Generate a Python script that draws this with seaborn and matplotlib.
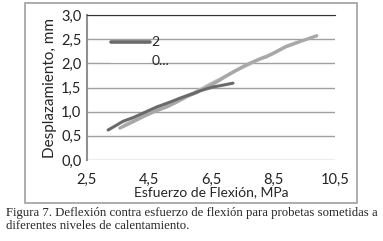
import matplotlib
matplotlib.use("Agg")
import matplotlib.pyplot as plt
import seaborn as sns
import pandas as pd
from matplotlib.lines import Line2D
from matplotlib.patches import Rectangle
from matplotlib.ticker import FuncFormatter

# serie "2" (gris oscuro)
x_dark = [3.18, 3.45, 3.66, 4.0, 4.31, 4.55, 4.76, 5.02, 5.27, 5.5, 5.72, 5.95, 6.14, 6.35, 6.56, 6.9, 7.21]
y_dark = [0.62, 0.72, 0.8, 0.88, 0.97, 1.04, 1.1, 1.16, 1.22, 1.28, 1.33, 1.38, 1.43, 1.47, 1.51, 1.55, 1.59]
# serie "0..." (gris claro)
x_light = [3.56, 3.98, 4.42, 4.75, 5.08, 5.4, 5.72, 6.05, 6.37, 6.7, 7.0, 7.3, 7.64, 8.0, 8.3, 8.6, 8.93, 9.37, 9.91]
y_light = [0.66, 0.79, 0.93, 1.02, 1.1, 1.2, 1.31, 1.4, 1.51, 1.62, 1.74, 1.85, 1.97, 2.07, 2.14, 2.24, 2.35, 2.45, 2.57]
x_light2 = [3.7, 4.1, 4.5, 4.9, 5.3, 5.7, 6.1, 6.5, 6.9, 7.3, 7.7, 8.1, 8.5, 8.9, 9.3]
y_light2 = [0.72, 0.84, 0.97, 1.08, 1.19, 1.32, 1.44, 1.58, 1.71, 1.85, 1.97, 2.1, 2.2, 2.34, 2.44]

xticks = [2.5, 4.5, 6.5, 8.5, 10.5]
yticks = [0.0, 0.5, 1.0, 1.5, 2.0, 2.5, 3.0]

sns.set_style("white")
plt.rcParams["font.family"] = ["Lato", "DejaVu Sans"]

fig = plt.figure(figsize=(3.83, 2.41), dpi=100)
fig.patches.append(Rectangle((25 / 383, 1 - 203 / 241), 332 / 383, 200 / 241,
                             transform=fig.transFigure, fill=False,
                             edgecolor="#a0a0a0", lw=1.2))
ax = fig.add_axes([87 / 383, 81 / 241, 248 / 383, 145 / 241])

df_d = pd.DataFrame({"x": x_dark, "y": y_dark})
df_l = pd.DataFrame({"x": x_light, "y": y_light})
df_l2 = pd.DataFrame({"x": x_light2, "y": y_light2})
sns.lineplot(data=df_l2, x="x", y="y", ax=ax, color="#c4c4c4", lw=2.4, sort=False)
sns.lineplot(data=df_l, x="x", y="y", ax=ax, color="#a8a8a8", lw=2.4, sort=False)
sns.lineplot(data=df_d, x="x", y="y", ax=ax, color="#6a6a6a", lw=2.2, sort=False)

ax.set_xlim(2.5, 10.5)
ax.set_ylim(0, 3.0)
ax.set_xticks(xticks)
ax.set_yticks(yticks)
fmt = FuncFormatter(lambda v, p: f"{v:.1f}".replace(".", ","))
ax.xaxis.set_major_formatter(fmt)
ax.yaxis.set_major_formatter(fmt)
ax.tick_params(labelsize=10.5, length=0, pad=4, colors="#222222")
ax.tick_params(axis="x", pad=9)
ax.yaxis.grid(True, color="#a0a0a0", lw=1)
ax.set_axisbelow(True)
for s in ["right", "bottom"]:
    ax.spines[s].set_visible(False)
ax.spines["top"].set_color("#333333")
ax.spines["left"].set_color("#909090")
ax.spines["left"].set_linewidth(1.5)
ax.set_xlabel("Esfuerzo de Flexión, MPa", fontsize=10, labelpad=0)
ax.set_ylabel("Desplazamiento, mm", fontsize=11, labelpad=3)

handles = [Line2D([], [], color="#6a6a6a", lw=2.6), Line2D([], [], color="white", lw=2.6)]
ax.legend(handles, ["2", "0..."], loc="upper left", bbox_to_anchor=(0.07, 0.9),
          frameon=False, fontsize=10, handlelength=2.8, handletextpad=0.1,
          labelspacing=0.5, borderpad=0)

fig.text(6 / 383, 1 - 213 / 241,
         "Figura 7. Deflexión contra esfuerzo de flexión para probetas sometidas a",
         family="Liberation Serif", fontsize=9.2, va="center", ha="left")
fig.text(6 / 383, 1 - 226 / 241, "diferentes niveles de calentamiento.",
         family="Liberation Serif", fontsize=9.2, va="center", ha="left")

fig.savefig("out.png", dpi=100)
